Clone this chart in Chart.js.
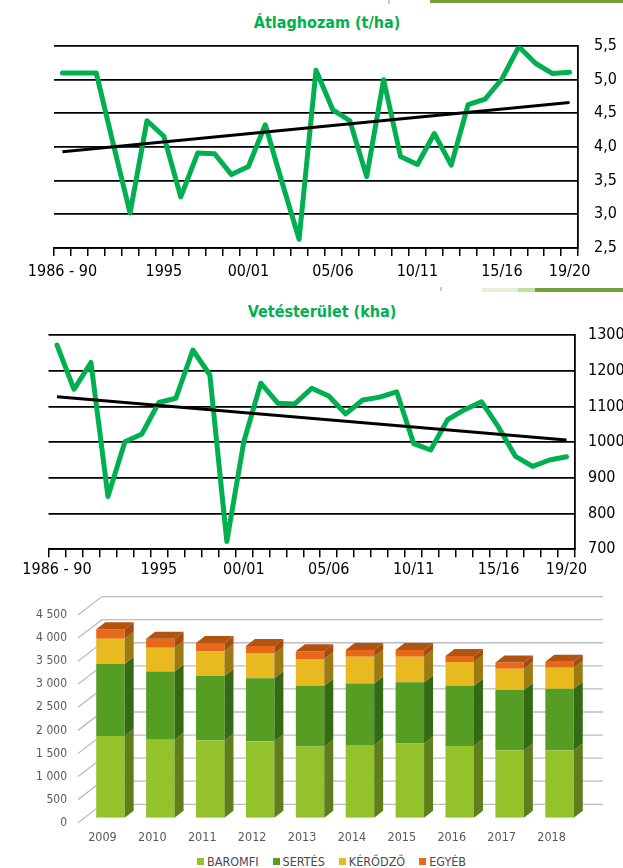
<!DOCTYPE html>
<html>
<head>
<meta charset="utf-8">
<script src="https://cdn.jsdelivr.net/npm/chart.js@4.4.1/dist/chart.umd.min.js"></script>
<style>
  html, body { margin: 0; padding: 0; background: #fff; }
  body { width: 623px; height: 868px; position: relative; overflow: hidden;
         font-family: "DejaVu Sans Condensed", "DejaVu Sans", sans-serif; }
  canvas { position: absolute; left: 0; }
  .title { position: absolute; width: 240px; text-align: center; color: #00B050;
           font-weight: bold; font-size: 16px; line-height: 18px; }
  .deco { position: absolute; z-index: 2; }
  #legend { position: absolute; left: 197px; top: 854px; font-size: 12.5px; color: #4a4a4a;
            line-height: 15px; white-space: nowrap; }
  #legend span.item { display: inline-block; margin-right: 14px; }
  #legend i { display: inline-block; width: 7px; height: 7px; margin-right: 3px; vertical-align: 1px; }
</style>
</head>
<body>

<div class="title" style="left:207px; top:14px;">Átlaghozam (t/ha)</div>
<div class="title" style="left:202px; top:303px;">Vetésterület (kha)</div>

<canvas id="c1" width="623" height="290" style="top:0"></canvas>
<canvas id="c2" width="623" height="290" style="top:290px"></canvas>
<canvas id="c3" width="623" height="268" style="top:580px"></canvas>
<div id="legend"></div>

<!-- slide decoration strips -->
<div class="deco" style="left:388px; top:0; width:1.5px; height:4px; background:#c8c8c8"></div>
<div class="deco" style="left:430px; top:0; width:193px; height:3px; background:#76A03E"></div>
<div class="deco" style="left:440px; top:287px; width:1.5px; height:4px; background:#c8c8c8"></div>
<div class="deco" style="left:482px; top:288px; width:36px; height:3.5px; background:#E4F0D4"></div>
<div class="deco" style="left:518px; top:288px; width:17px; height:3.5px; background:#C8DFA2"></div>
<div class="deco" style="left:535px; top:288px; width:88px; height:3.5px; background:#70A03A"></div>

<script>
const FONT = "'DejaVu Sans Condensed', 'DejaVu Sans', sans-serif";

// --- line charts: 1986-90 .. 2019/20 ---
const periods = ['1986 - 90', '1990', '1991', '1992', '1993', '1994', '1995', '1996', '1997', '1998', '1999',
  '00/01', '01/02', '02/03', '03/04', '04/05', '05/06', '06/07', '07/08', '08/09', '09/10',
  '10/11', '11/12', '12/13', '13/14', '14/15', '15/16', '16/17', '17/18', '18/19', '19/20'];
const shownPeriods = ['1986 - 90', '1995', '00/01', '05/06', '10/11', '15/16', '19/20'];

const yieldValues = [5.1, 5.1, 5.1, 4.05, 3.02, 4.39, 4.16, 3.26, 3.91, 3.9, 3.59,
  3.71, 4.33, 3.47, 2.63, 5.14, 4.55, 4.39, 3.56, 5.0, 3.86,
  3.74, 4.2, 3.73, 4.63, 4.71, 5.01, 5.49, 5.24, 5.09, 5.11];
const yieldTrend = [3.93, 4.66];

const areaValues = [1272, 1148, 1223, 848, 1001, 1023, 1111, 1123, 1258, 1188, 722,
  1001, 1165, 1109, 1107, 1151, 1129, 1079, 1118, 1126, 1141,
  996, 978, 1063, 1091, 1113, 1042, 960, 932, 950, 959];
const areaTrend = [1127, 1006];
const trendEnds = ['1986 - 90', '19/20'];

// --- stacked 3D bars ---
const years = ['2009', '2010', '2011', '2012', '2013', '2014', '2015', '2016', '2017', '2018'];
const baromfi = [1770, 1690, 1675, 1655, 1540, 1575, 1605, 1555, 1460, 1460];
const sertes  = [1560, 1480, 1395, 1365, 1320, 1330, 1330, 1305, 1305, 1335];
const kerodzo = [545, 510, 535, 535, 580, 580, 550, 515, 460, 455];
const egyeb   = [210, 195, 180, 165, 165, 150, 150, 130, 135, 130];
const barNames = ['BAROMFI', 'SERTÉS', 'KÉRŐDZŐ', 'EGYÉB'];
const barColors  = ['#93C22B', '#559E23', '#E9B920', '#E8681A'];
const sideColors = ['#5E7F1B', '#356A14', '#9C7B13', '#A84B0E'];
const topColor = '#B4520F';

function lineChart(id, values, trend, yMin, yMax, step, fmt, g) {
  return new Chart(document.getElementById(id), {
    type: 'line',
    data: {
      labels: periods,
      datasets: [
        { data: values, borderColor: '#00B050', borderWidth: 5, pointRadius: 0, tension: 0,
          borderJoinStyle: 'round', borderCapStyle: 'round', order: 2 },
        { data: trendEnds.map((p, i) => ({ x: p, y: trend[i] })), borderColor: '#000', borderWidth: 3,
          pointRadius: 0, order: 1 }
      ]
    },
    options: {
      responsive: false,
      animation: false,
      devicePixelRatio: 1,
      layout: { padding: { left: g.left, top: g.top, right: 0, bottom: 0 } },
      plugins: { legend: { display: false }, tooltip: { enabled: false } },
      scales: {
        x: {
          offset: true,
          grid: { offset: true, drawOnChartArea: false, drawTicks: true, tickLength: 8, color: '#000', lineWidth: 1.5 },
          border: { color: '#000', width: 1.8 },
          ticks: {
            autoSkip: false, maxRotation: 0, minRotation: 0, padding: g.xPad, color: '#000',
            font: { family: FONT, size: 16 },
            callback: (v, i) => shownPeriods.includes(periods[i]) ? periods[i] : ''
          },
          afterFit: s => { s.height = g.xHeight; }
        },
        y: {
          position: 'right', min: yMin, max: yMax,
          grid: { color: '#000', lineWidth: 1.8, drawTicks: false },
          border: { color: '#000', width: 1.8 },
          ticks: { stepSize: step, padding: g.yPad, color: '#000', font: { family: FONT, size: 16 }, callback: fmt },
          afterFit: s => { s.width = g.yWidth; }
        }
      }
    }
  });
}

lineChart('c1', yieldValues, yieldTrend, 2.5, 5.5, 0.5, v => v.toFixed(1).replace('.', ','),
  { left: 54, top: 46, xHeight: 42, xPad: 6, yWidth: 45, yPad: 16 });
lineChart('c2', areaValues, areaTrend, 700, 1300, 100, v => String(v),
  { left: 48.5, top: 45, xHeight: 30.7, xPad: 3, yWidth: 48, yPad: 13 });

// pseudo-3D: back wall grid + bar side/top faces
const WALL_DX = 24, WALL_DY = 18.4, FRONT_DROP = 5, BAR_DX = 9, BAR_DY = 7;
const box3d = {
  id: 'box3d',
  beforeDatasetsDraw(chart) {
    const { ctx, chartArea, scales: { y } } = chart;
    ctx.save();
    ctx.strokeStyle = '#BDBDBD';
    ctx.lineWidth = 1.3;
    y.ticks.forEach(t => {
      const yf = y.getPixelForValue(t.value) + FRONT_DROP;
      const xf = chartArea.left - 7.5;
      ctx.beginPath();
      ctx.moveTo(xf, yf);
      ctx.lineTo(xf + WALL_DX, yf - WALL_DY);
      ctx.lineTo(chartArea.right + 18.5, yf - WALL_DY);
      ctx.stroke();
    });
    ctx.restore();
  },
  afterDatasetsDraw(chart) {
    const ctx = chart.ctx;
    const last = chart.data.datasets.length - 1;
    ctx.save();
    chart.data.datasets.forEach((ds, di) => {
      chart.getDatasetMeta(di).data.forEach(bar => {
        const { x, y, base, width } = bar.getProps(['x', 'y', 'base', 'width'], true);
        const l = x - width / 2, r = x + width / 2;
        ctx.fillStyle = sideColors[di];
        ctx.beginPath();
        ctx.moveTo(r, y); ctx.lineTo(r + BAR_DX, y - BAR_DY);
        ctx.lineTo(r + BAR_DX, base - BAR_DY); ctx.lineTo(r, base);
        ctx.closePath(); ctx.fill();
        if (di === last) {
          ctx.fillStyle = topColor;
          ctx.beginPath();
          ctx.moveTo(l, y); ctx.lineTo(l + BAR_DX, y - BAR_DY);
          ctx.lineTo(r + BAR_DX, y - BAR_DY); ctx.lineTo(r, y);
          ctx.closePath(); ctx.fill();
        }
      });
    });
    ctx.restore();
  }
};

const series = [baromfi, sertes, kerodzo, egyeb];
new Chart(document.getElementById('c3'), {
  type: 'bar',
  data: {
    labels: years,
    datasets: series.map((d, i) => ({ label: barNames[i], data: d, backgroundColor: barColors[i],
      barPercentage: 0.57, categoryPercentage: 1 }))
  },
  options: {
    responsive: false,
    animation: false,
    devicePixelRatio: 1,
    layout: { padding: { top: 30, right: 38.5, left: 0, bottom: 0 } },
    plugins: { legend: { display: false }, tooltip: { enabled: false } },
    scales: {
      x: {
        stacked: true,
        grid: { display: false, drawTicks: false },
        border: { display: false },
        ticks: { color: '#595959', font: { family: FONT, size: 12.5 }, labelOffset: -8, padding: 13, maxRotation: 0 },
        afterFit: s => { s.height = 30.3; }
      },
      y: {
        stacked: true, min: 0, max: 4500,
        grid: { display: false, drawTicks: false },
        border: { display: false },
        ticks: {
          stepSize: 500, labelOffset: FRONT_DROP, padding: 18.5, color: '#595959',
          font: { family: FONT, size: 12 },
          callback: v => v >= 1000 ? Math.floor(v / 1000) + ' ' + String(v % 1000).padStart(3, '0') : String(v)
        },
        afterFit: s => { s.width = 85.5; }
      }
    }
  },
  plugins: [box3d]
});

document.getElementById('legend').innerHTML = barNames.map((n, i) =>
  '<span class="item"><i style="background:' + barColors[i] + '"></i>' + n + '</span>').join('');
</script>
</body>
</html>
